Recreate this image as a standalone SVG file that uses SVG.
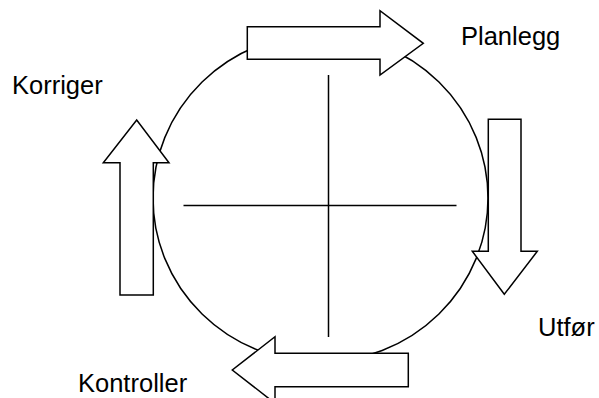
<svg xmlns="http://www.w3.org/2000/svg" width="599" height="398" viewBox="0 0 599 398">
<style>
.ln{fill:none;stroke:#000;stroke-width:1.5}
.ar{fill:#fff;stroke:#000;stroke-width:1.5;stroke-linejoin:miter}
.lb{font-family:"Liberation Sans",Arial,sans-serif;font-size:25.5px;fill:#000}
</style>
<rect width="599" height="398" fill="#fff"/>
<g id="cycle">
<ellipse class="ln" cx="320.5" cy="198" rx="167.5" ry="164"/>
<line class="ln" x1="183.5" y1="205.5" x2="456.5" y2="205.5"/>
<line class="ln" x1="328.5" y1="75" x2="328.5" y2="337"/>
</g>
<g id="connectors">
<polygon id="arrow-planlegg" class="ar" points="247.3,26.7 380,26.7 380,10.7 423.3,43.3 380,75 380,59.3 247.3,59.3"/>
<polygon id="arrow-utfor" class="ar" points="488.3,119.3 521,119.3 521,251.3 537.3,251.3 504.3,294.3 472.3,251.3 488.3,251.3"/>
<polygon id="arrow-kontroller" class="ar" points="408.3,353.3 408.3,386.7 275,386.7 275,403.3 232.3,370 275,336.7 275,353.3"/>
<polygon id="arrow-korriger" class="ar" points="120,295 153.3,295 153.3,162.7 169,162.7 136.7,120 103.3,162.7 120,162.7"/>
</g>
<g id="planlegg"><text class="lb" x="461" y="45">Planlegg</text></g>
<g id="korriger"><text class="lb" x="12" y="94">Korriger</text></g>
<g id="utfor"><text class="lb" x="538" y="336">Utfør</text></g>
<g id="kontroller"><text class="lb" x="78" y="392">Kontroller</text></g>
</svg>
